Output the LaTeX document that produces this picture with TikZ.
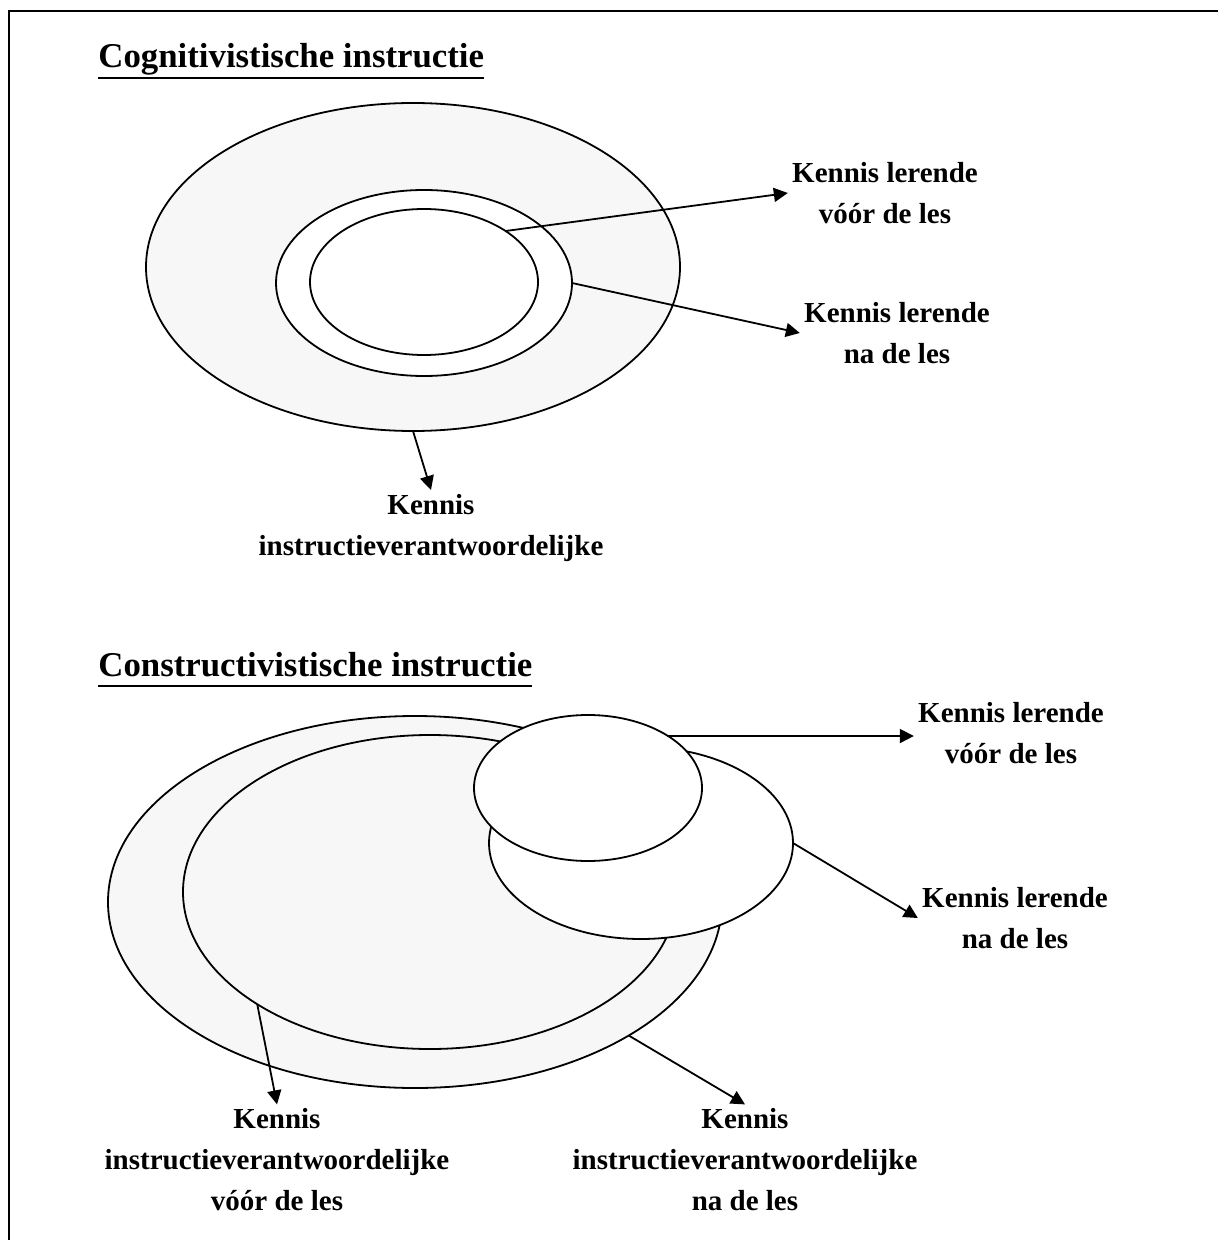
\documentclass[tikz,border=0pt]{standalone}
\usepackage{fontspec}
\setmainfont{Liberation Serif}
\usetikzlibrary{arrows.meta, shapes.geometric}
\newcommand{\onderlijn}[1]{\setbox0\hbox{#1}\leavevmode\rlap{\rule[-5.5pt]{\wd0}{1pt}}\box0}

\begin{document}
\begin{tikzpicture}[x=0.5pt, y=-0.5pt, >={Triangle[length=7pt, width=7pt]},
  ring/.style={draw, line width=0.9pt, ellipse, inner sep=0pt, outer sep=0pt},
  tekst/.style={align=center, font=\fontsize{14.5}{20.5}\selectfont\bfseries, inner sep=2pt},
  kop/.style={anchor=base west, inner sep=0pt, font=\fontsize{17.4}{20}\selectfont\bfseries},
  pijl/.style={->, line width=0.9pt}]
  \useasboundingbox (0,0) rectangle (1218,1240);
  \draw[line width=1.1pt] (9,1260) -- (9,11) -- (1240,11);

  % cognitivistisch
  \node[kop] (kopA) at (98,68) {\onderlijn{Cognitivistische instructie}};
  \node[ring, fill=black!3, minimum width=267pt, minimum height=164pt] (buitenA) at (413,267) {};
  \node[ring, fill=white, minimum width=148pt, minimum height=93pt] (naA) at (424,283) {};
  \node[ring, fill=white, minimum width=114pt, minimum height=73pt] (voorA) at (424,282) {};
  \node[tekst] (tekstA1) at (885,193) {Kennis lerende\\vóór de les};
  \node[tekst] (tekstA2) at (897,333) {Kennis lerende\\na de les};
  \node[tekst] (tekstA3) at (431,528) {Kennis\\instructieverantwoordelijke};
  \draw[pijl] (voorA.32) -- (tekstA1.west);
  \draw[pijl] (naA.east) -- (tekstA2.west);
  \draw[pijl] (buitenA.south) -- (tekstA3.north);

  % constructivistisch
  \node[kop] (kopB) at (98,676) {\onderlijn{Constructivistische instructie}};
  \node[ring, fill=black!3, minimum width=307pt, minimum height=186pt] (buitenB) at (415,902) {};
  \node[ring, fill=black!3, minimum width=247pt, minimum height=157pt] (instrB) at (430,892) {};
  \node[ring, fill=white, minimum width=152pt, minimum height=96pt] (naB) at (641,843) {};
  \node[ring, fill=white, minimum width=114pt, minimum height=73pt] (voorB) at (588,788) {};
  \node[tekst] (tekstB1) at (1011,733) {Kennis lerende\\vóór de les};
  \node[tekst] (tekstB2) at (1015,918) {Kennis lerende\\na de les};
  \node[tekst] (tekstB3) at (277,1160) {Kennis\\instructieverantwoordelijke\\vóór de les};
  \node[tekst] (tekstB4) at (745,1160) {Kennis\\instructieverantwoordelijke\\na de les};
  \draw[pijl] (voorB.33) -- (voorB.33 -| tekstB1.west);
  \draw[pijl] (naB.east) -- (tekstB2.west);
  \draw[pijl] (instrB.213) -- (tekstB3.north);
  \draw[pijl] (buitenB.-32) -- (tekstB4.north);
\end{tikzpicture}
\end{document}
